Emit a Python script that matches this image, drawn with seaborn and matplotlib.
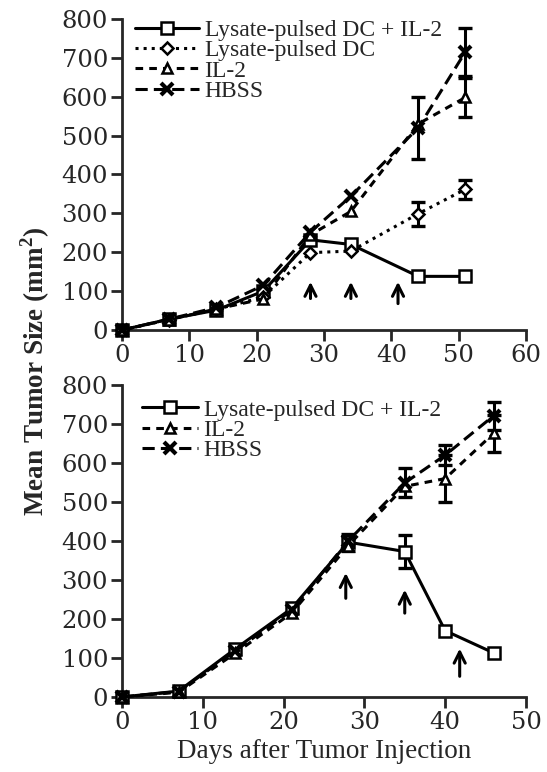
import numpy as np
import pandas as pd
import matplotlib
matplotlib.use("Agg")
import matplotlib.pyplot as plt
import seaborn as sns

# Top panel: four treatment groups
top_days = [0, 7, 14, 21, 28, 34, 44, 51]
top_dc_il2 = [0, 28, 51, 100, 232, 220, 138, 138]
top_dc = [0, 27, 53, 85, 199, 203, 299, 362]
top_dc_err = [0, 0, 0, 0, 0, 0, 31, 24]
top_il2 = [0, 27, 54, 80, 245, 305, 530, 598]
top_il2_err = [0, 0, 0, 0, 0, 0, 0, 50]
top_hbss = [0, 28, 58, 115, 252, 344, 520, 715]
top_hbss_err = [0, 0, 0, 0, 0, 0, 80, 62]
# treatment arrows: (day, tail, head)
top_arrows = [(28, 81, 124), (34, 81, 124), (41, 68, 124)]

# Bottom panel: three treatment groups
bot_days = [0, 7, 14, 21, 28, 35, 40, 46]
bot_dc_il2 = [0, 15, 123, 227, 397, 373, 170, 113]
bot_dc_il2_err = [0, 0, 0, 0, 22, 43, 0, 0]
bot_il2 = [0, 12, 112, 215, 388, 540, 560, 676]
bot_il2_err = [0, 0, 0, 0, 0, 0, 60, 48]
bot_hbss = [0, 14, 118, 222, 400, 549, 620, 721]
bot_hbss_err = [0, 0, 0, 0, 0, 37, 25, 36]
bot_arrows = [(27.7, 253, 318), (35, 215, 275), (41.8, 53, 124)]

sns.set_style("ticks")
plt.rcParams['font.family'] = ['Liberation Serif', 'DejaVu Serif']
plt.rcParams['mathtext.fontset'] = 'custom'
plt.rcParams['mathtext.rm'] = 'Liberation Serif'
plt.rcParams['mathtext.bf'] = 'Liberation Serif:bold'

styles = {
    "Lysate-pulsed DC + IL-2": dict(marker="s", ms=9, linestyle="-"),
    "Lysate-pulsed DC": dict(marker="D", ms=6, linestyle=":"),
    "IL-2": dict(marker="^", ms=7, linestyle=(0, (2.5, 2))),
    "HBSS": dict(marker="x", ms=9, linestyle=(0, (4, 2)), mew=3),
}


def draw_series(ax, days, vals, err, name):
    st = dict(styles[name])
    mew = st.pop("mew", 1.8)
    sns.lineplot(x=days, y=vals, ax=ax, color="black", lw=2.2, label=name,
                 markerfacecolor="white", markeredgecolor="black",
                 markeredgewidth=mew, clip_on=False, zorder=3, **st)
    e = np.array(err, dtype=float)
    idx = e > 0
    if idx.any():
        ax.errorbar(np.array(days)[idx], np.array(vals)[idx], yerr=e[idx],
                    fmt="none", ecolor="black", elinewidth=2.2, capsize=5,
                    capthick=2.4, zorder=2)


def style_axes(ax, xmax):
    ax.set_xlim(0, xmax)
    ax.set_ylim(0, 800)
    ax.set_yticks(range(0, 801, 100))
    ax.set_xticks(range(0, xmax + 1, 10))
    sns.despine(ax=ax)
    for s in ["left", "bottom"]:
        ax.spines[s].set_linewidth(2)
    ax.tick_params(width=2, length=8, labelsize=17.5, pad=2)
    for lab in ax.get_xticklabels() + ax.get_yticklabels():
        lab.set_fontfamily("DejaVu Serif")
    ax.set_xlabel("")
    ax.set_ylabel("")


fig = plt.figure(figsize=(5.47, 7.72), dpi=100)
ax1 = fig.add_axes([0.223, 0.5725, 0.7385, 0.403])
ax2 = fig.add_axes([0.223, 0.0972, 0.7385, 0.4041])

draw_series(ax1, top_days, top_dc_il2, [0] * 8, "Lysate-pulsed DC + IL-2")
draw_series(ax1, top_days, top_dc, top_dc_err, "Lysate-pulsed DC")
draw_series(ax1, top_days, top_il2, top_il2_err, "IL-2")
draw_series(ax1, top_days, top_hbss, top_hbss_err, "HBSS")

draw_series(ax2, bot_days, bot_dc_il2, bot_dc_il2_err, "Lysate-pulsed DC + IL-2")
draw_series(ax2, bot_days, bot_il2, bot_il2_err, "IL-2")
draw_series(ax2, bot_days, bot_hbss, bot_hbss_err, "HBSS")

for ax, arrows in [(ax1, top_arrows), (ax2, bot_arrows)]:
    for x, y0, y1 in arrows:
        ax.annotate("", xy=(x, y1), xytext=(x, y0),
                    arrowprops=dict(arrowstyle="->", lw=2.2, color="black",
                                    mutation_scale=20, shrinkA=0, shrinkB=0))

style_axes(ax1, 60)
style_axes(ax2, 50)

ax1.legend(loc="upper left", bbox_to_anchor=(0.032, 0.998), frameon=False,
           fontsize=17, handlelength=2.7, handletextpad=0.25,
           labelspacing=-0.05, borderpad=0, borderaxespad=0)
ax2.legend(loc="upper left", bbox_to_anchor=(0.05, 0.955), frameon=False,
           fontsize=17, handlelength=2.35, handletextpad=0.25,
           labelspacing=-0.05, borderpad=0, borderaxespad=0)

ax2.set_xlabel("Days after Tumor Injection", fontsize=19.5, labelpad=4)
fig.text(0.065, 0.519, "Mean Tumor Size (mm$^\\mathbf{2}$)", rotation=90,
         ha="center", va="center", fontsize=19.5, fontweight="bold")

fig.savefig("out.png", dpi=100)
